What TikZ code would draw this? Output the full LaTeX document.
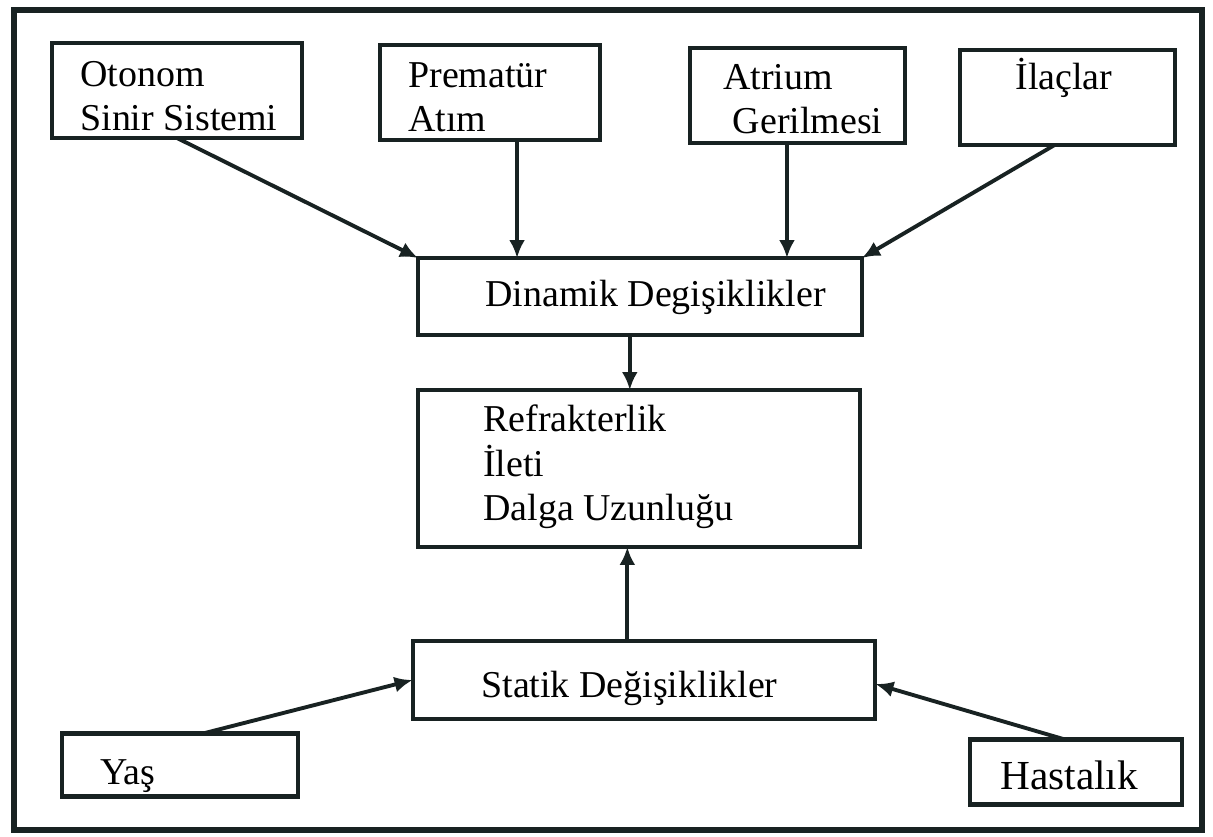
\documentclass[tikz,border=0pt]{standalone}
\usepackage{fontspec}
\setmainfont{Liberation Serif}
\usetikzlibrary{arrows.meta,calc}
\definecolor{ink}{RGB}{24,34,34}
\tikzset{
  box/.style={draw=ink, line width=2.3pt, fill=none, inner sep=0pt, outer sep=0pt},
  lbl/.style={anchor=base west, inner sep=0pt, text=black,
              font=\fontsize{21.6}{25}\selectfont},
  arr/.style={draw=ink, line width=2.2pt, -{Latex[length=0.36cm,width=0.32cm]}},
}
\newcommand{\lines}[1]{\begin{tabular}[t]{@{}l@{}}#1\end{tabular}}
\begin{document}
\begin{tikzpicture}[x=0.02cm,y=-0.02cm]
\useasboundingbox (0,0) rectangle (1213,837);
\fill[white] (0,0) rectangle (1213,837);
% outer frame
\node[draw=ink, line width=3pt, inner sep=0pt, minimum width=23.76cm, minimum height=16.4cm] (frame) at (608,420) {};
% boxes
\node[box, minimum width=5.0cm,  minimum height=1.9cm]  (oto) at (177,90.5) {};
\node[box, minimum width=4.4cm,  minimum height=1.9cm]  (pre) at (490,92.5) {};
\node[box, minimum width=4.3cm,  minimum height=1.9cm]  (atr) at (797.5,95.5) {};
\node[box, minimum width=4.3cm,  minimum height=1.9cm]  (ila) at (1067.5,97.5) {};
\node[box, minimum width=8.88cm, minimum height=1.54cm] (din) at (640,296.5) {};
\node[box, minimum width=8.84cm, minimum height=3.14cm] (ref) at (639,468.5) {};
\node[box, minimum width=9.26cm, minimum height=1.56cm] (sta) at (644,680) {};
\node[box, minimum width=4.72cm, minimum height=1.26cm] (yas) at (180,765) {};
\node[box, minimum width=4.24cm, minimum height=1.3cm]  (has) at (1076,772) {};
% labels
\node[lbl] (otoT) at (80,87)   {\lines{Otonom\\Sinir Sistemi}};
\node[lbl] (preT) at (408,88)  {\lines{Prematür\\Atım}};
\node[lbl] (atrT) at (723,90)  {\lines{Atrium\\\ Gerilmesi}};
\node[lbl] (ilaT) at (1015,90) {İlaçlar};
\node[lbl] (dinT) at (485,307) {Dinamik Degişiklikler};
\node[lbl] (refT) at (483,432) {\lines{Refrakterlik\\İleti\\Dalga Uzunluğu}};
\node[lbl] (staT) at (481,697) {Statik Değişiklikler};
\node[lbl] (yasT) at (100,784) {Yaş};
\node[lbl, font=\fontsize{23.5}{27}\selectfont] (hasT) at (1000,789) {Hastalık};
% connectors
\coordinate (p1) at ($(pre.south west)!0.623!(pre.south east)$);
\coordinate (a1) at ($(atr.south west)!0.451!(atr.south east)$);
\coordinate (i1) at ($(ila.south west)!0.44!(ila.south east)$);
\coordinate (d1) at ($(din.south west)!0.477!(din.south east)$);
\coordinate (s1) at ($(sta.north west)!0.464!(sta.north east)$);
\coordinate (y1) at ($(yas.north west)!0.597!(yas.north east)$);
\coordinate (h1) at ($(has.north west)!0.448!(has.north east)$);
\draw[arr] (oto.south) -- (din.north west);
\draw[arr] (p1) -- (p1 |- din.north);
\draw[arr] (a1) -- (a1 |- din.north);
\draw[arr] (i1) -- (din.north east);
\draw[arr] (d1) -- (d1 |- ref.north);
\draw[arr] (s1) -- (s1 |- ref.south);
\draw[arr] (y1) -- (sta.west);
\draw[arr] (h1) -- ($(sta.east)+(0,4)$);
\end{tikzpicture}
\end{document}
